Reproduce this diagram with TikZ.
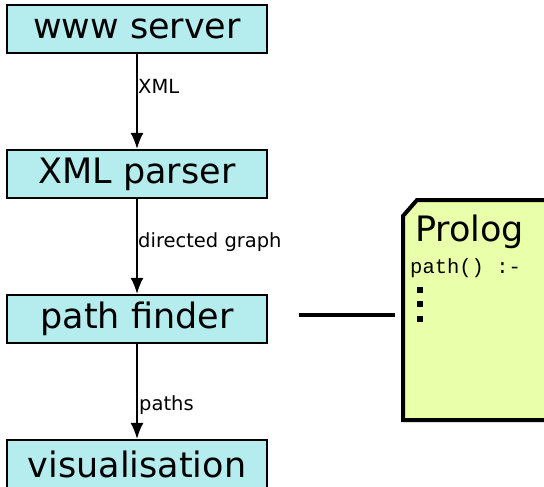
\documentclass[tikz,border=0pt]{standalone}
\usepackage{fontspec}
\setmainfont{DejaVu Sans}
\newfontfamily\codefont{Liberation Mono}
\usetikzlibrary{arrows.meta}
\definecolor{stagefill}{HTML}{B5EDEF}
\definecolor{prologfill}{HTML}{EAFFAA}
\tikzset{
  stage/.style={draw=black, line width=2.4pt, fill=stagefill, minimum width=260pt,
    minimum height=48pt, inner sep=0pt, font=\fontsize{35}{35}\selectfont},
  flow/.style={line width=1.4pt, -{Latex[length=16pt,width=13pt]}},
  flowlabel/.style={anchor=west, inner sep=0pt, font=\fontsize{19.5}{19.5}\selectfont},
}
\begin{document}
\begin{tikzpicture}[x=1pt,y=-1pt]
\useasboundingbox (0,0) rectangle (544,487);
\clip (0,0) rectangle (544,487);
% pipeline stages
\node[stage] (www) at (137,29) {www server};
\node[stage] (xml) at (137,174) {XML parser};
\node[stage] (path) at (137,319) {path finder};
\node[stage] (vis) at (137,464) {visualisation};
% data flow between stages
\draw[flow] (www) -- coordinate[pos=0.34] (l1) (xml);
\draw[flow] (xml) -- coordinate[pos=0.45] (l2) (path);
\draw[flow] (path) -- coordinate[pos=0.64] (l3) (vis);
\node[flowlabel] at ([xshift=1pt]l1) {XML};
\node[flowlabel] at ([xshift=1pt]l2) {directed graph};
\node[flowlabel] at ([xshift=2pt]l3) {paths};
% Prolog module (note shape with a cut corner)
\draw[line width=4pt, fill=prologfill, line join=miter]
  (403,216) -- (417,200) -- (560,200) -- (560,420) -- (403,420) -- cycle;
\coordinate (prolog) at (403,315);
\node[anchor=base west, inner sep=0pt, font=\fontsize{35}{35}\selectfont] (ptitle) at (415,241) {Prolog};
\node[anchor=base west, inner sep=0pt, font=\codefont\fontsize{20.5}{20.5}\selectfont] (pcode) at (410,273) {path() :-};
\foreach \y in {286.5,301,315.5} \fill (416.5,\y) rectangle ++(6,6);
% link from path finder to Prolog
\coordinate (linkstart) at (299,315);
\draw[line width=4pt] (linkstart) -- ([xshift=-8pt]prolog);
\end{tikzpicture}
\end{document}
